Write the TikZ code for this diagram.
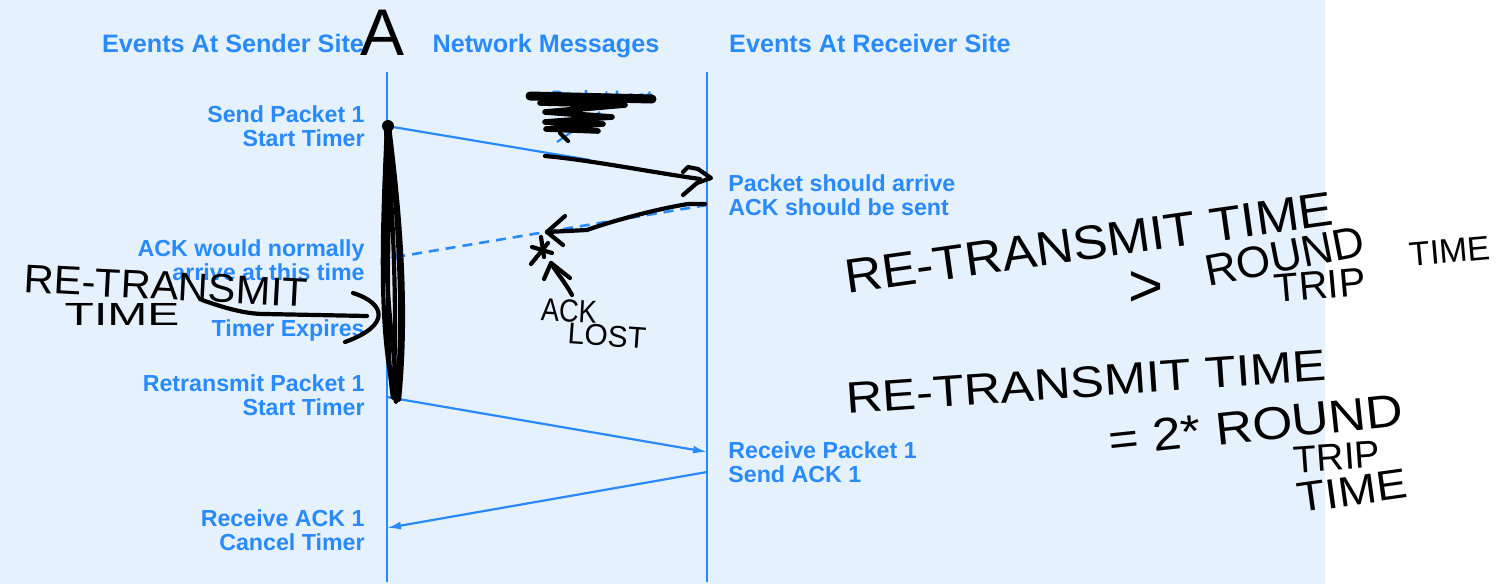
\documentclass[tikz,border=0pt]{standalone}
\usepackage{fontspec}
\setmainfont{Liberation Sans}
\usepackage{graphicx}
\usetikzlibrary{arrows.meta}
\definecolor{bg}{RGB}{230,241,254}
\definecolor{tblue}{RGB}{40,138,252}
\begin{document}
\begin{tikzpicture}[x=0.5pt,y=-0.5pt,
  lbl/.style={font=\bfseries\fontsize{11.6}{12}\selectfont,text=tblue,inner sep=0pt},
  hdr/.style={font=\bfseries\fontsize{12.6}{14}\selectfont,text=tblue,inner sep=0pt},
  tl/.style={draw=tblue,line width=1.1pt},
  ar/.style={tl,-{Latex[length=7pt,width=4pt]}},
  hand/.style={draw=black,line width=2.1pt,line cap=round,line join=round},
  hw/.style={text=black,inner sep=0pt}]
\useasboundingbox (0,0) rectangle (1508,584);
\fill[bg] (0,0) rectangle (1325,584);

% headers
\node[hdr,anchor=base] (hS) at (233,52) {Events At Sender Site};
\node[hdr,anchor=base] (hN) at (546,52) {Network Messages};
\node[hdr,anchor=base] (hR) at (870,52) {Events At Receiver Site};

% time lines
\coordinate (sTop) at (387,72); \coordinate (sBot) at (387,582);
\coordinate (rTop) at (707,72); \coordinate (rBot) at (707,582);
\draw[tl] (sTop)--(sBot);
\draw[tl] (rTop)--(rBot);

% sender labels
\node[lbl,anchor=north east,align=right] (l1) at (365,105) {Send Packet 1\\Start Timer};
\node[lbl,anchor=north east,align=right] (l2) at (365,239) {ACK would normally\\arrive at this time};
\node[lbl,anchor=north east,align=right] (l3) at (365,319) {Timer Expires};
\node[lbl,anchor=north east,align=right] (l4) at (365,374) {Retransmit Packet 1\\Start Timer};
\node[lbl,anchor=north east,align=right] (l5) at (365,509) {Receive ACK 1\\Cancel Timer};
% receiver labels
\node[lbl,anchor=north west,align=left] (r1) at (728,174) {Packet should arrive\\ACK should be sent};
\node[lbl,anchor=north west,align=left] (r2) at (728,441) {Receive Packet 1\\Send ACK 1};
% packet lost label
\node[lbl,font=\bfseries\fontsize{9}{10}\selectfont,anchor=base] (plost) at (602,103) {Packet Lost};

% messages
\coordinate (p1s) at (387,126); \coordinate (p1e) at (590,160);
\draw[tl] (p1s)--(p1e);
\coordinate (lp1) at (557,142); \coordinate (lp2) at (600,112);
\draw[tl] (lp1)--(lp2);
\coordinate (aS) at (707,205); \coordinate (aE) at (390,258);
\draw[tl,line width=1.3pt,dash pattern=on 5pt off 3.5pt,-{Latex[length=4pt,width=4pt]}] (aS)--(aE);
\coordinate (rtS) at (387,397); \coordinate (rtE) at (707,452);
\draw[ar] (rtS)--(rtE);
\coordinate (akS) at (707,472); \coordinate (akE) at (387,528);
\draw[ar] (akS)--(akE);

% ---------- handwritten annotations ----------
\node[hw,font=\fontsize{33}{33}\selectfont] (hA) at (383,33) {A};

% scribble over "Packet Lost"
\draw[hand,line width=4.5pt] (530,96) -- (652,99);
\draw[hand,line width=2.8pt] (540,103) -- (625,105) -- (545,112) -- (612,117) -- (545,122) -- (603,124) -- (546,129) -- (598,131);
\draw[hand] (560,133) -- (568,141);

% loop over the sender line
\fill[black] (388,126) circle (3pt);
\draw[hand] (387,124) .. controls (383,220) and (377,330) .. (396,402) .. controls (404,330) and (400,220) .. (387,124);
\draw[hand] (389,126) .. controls (398,200) and (409,300) .. (399,400) .. controls (386,300) and (380,200) .. (389,126);
\draw[hand] (386,130) .. controls (392,230) and (383,330) .. (393,398) .. controls (397,330) and (395,230) .. (386,130);

% arrow to receiver
\coordinate (b1s) at (545,156); \coordinate (b1e) at (700,179);
\draw[hand] (b1s) .. controls (590,160) and (650,172) .. (b1e);
\draw[hand] (683,172) -- (688,167) -- (698,169) -- (711,178) -- (697,183) -- (683,195);

% arrow back (ACK)
\coordinate (b2s) at (705,204); \coordinate (b2e) at (547,232);
\draw[hand] (b2s) -- (688,204) .. controls (650,210) and (600,225) .. (587,230) -- (b2e);
\draw[hand] (b2e) -- (565,216);
\draw[hand] (b2e) -- (563,245);
% X mark
\draw[hand] (541,237) -- (544,257);
\draw[hand] (531,264) -- (548,243);
\draw[hand] (532,247) -- (552,253);
% up arrow
\coordinate (u1) at (572,295); \coordinate (u2) at (551,263);
\draw[hand] (u1) .. controls (565,282) and (556,272) .. (u2);
\draw[hand] (544,279) -- (u2) -- (570,278);
\node[hw,font=\fontsize{16}{16}\selectfont,rotate=-3] (tACK) at (569,311) {\scalebox{0.85}[1]{ACK}};
\node[hw,font=\fontsize{15}{15}\selectfont,rotate=-4] (tLOST) at (607,336) {LOST};

% left annotation
\node[hw,font=\fontsize{20}{20}\selectfont,rotate=-3] (tRT1) at (166,286) {\scalebox{1.04}[1]{RE-TRANSMIT}};
\node[hw,font=\fontsize{16}{16}\selectfont] (tTI1) at (122,314) {\scalebox{1.5}[1]{TIME}};
\coordinate (ll1) at (202,300); \coordinate (ll2) at (367,316);
\draw[hand] (ll1) .. controls (225,308) and (245,314) .. (265,314) -- (ll2);
\coordinate (br1) at (353,293); \coordinate (br2) at (345,342);
\draw[hand] (br1) .. controls (385,303) and (392,325) .. (br2);

% right annotation (upper)
\node[hw,font=\fontsize{24}{24}\selectfont,rotate=8] (tRT2) at (1089,243) {\scalebox{1.08}[1]{RE-TRANSMIT TIME}};
\node[hw,font=\fontsize{30}{30}\selectfont] (tGT) at (1146,289) {>};
\node[hw,font=\fontsize{22}{22}\selectfont,rotate=11] (tRO2) at (1285,256) {ROUND};
\node[hw,font=\fontsize{20}{20}\selectfont,rotate=5] (tTR2) at (1320,285) {TRIP};
\node[hw,font=\fontsize{17}{17}\selectfont,rotate=5] (tTI2) at (1450,251) {TIME};

% right annotation (lower)
\node[hw,font=\fontsize{22}{22}\selectfont,rotate=4] (tRT3) at (1086,382) {\scalebox{1.15}[1]{RE-TRANSMIT TIME}};
\node[hw,font=\fontsize{23}{23}\selectfont,rotate=6] (tEQ3) at (1256,425) {\scalebox{1.12}[1]{= 2* ROUND}};
\node[hw,font=\fontsize{19}{19}\selectfont,rotate=4] (tTR3) at (1337,457) {TRIP};
\node[hw,font=\fontsize{21}{21}\selectfont,rotate=8] (tTI3) at (1352,491) {\scalebox{1.1}[1]{TIME}};
\end{tikzpicture}
\end{document}
